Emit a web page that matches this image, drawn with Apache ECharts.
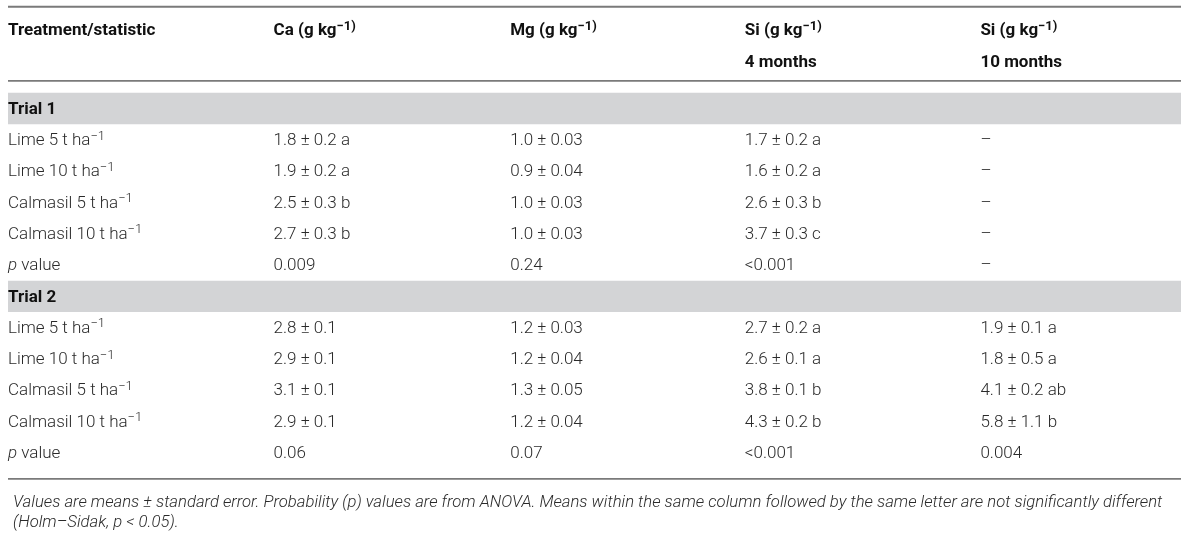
<!DOCTYPE html>
<html>
<head>
<meta charset="utf-8">
<title>Ca, Mg and Si by treatment</title>
<script src="https://cdn.jsdelivr.net/npm/echarts@6/dist/echarts.min.js"></script>
<style>
  html, body { margin: 0; padding: 0; background: #fff; }
  #table { width: 1200px; height: 536px; }
</style>
</head>
<body>
<div id="table"></div>
<script>
// Table content
const headTop = ['Treatment/statistic', 'Ca (g kg^−1)', 'Mg (g kg^−1)', 'Si (g kg^−1)', 'Si (g kg^−1)'];
const headSub = ['', '', '', '4 months', '10 months'];
const trials = ['Trial 1', 'Trial 2'];
const treatments = ['Lime 5 t ha^−1', 'Lime 10 t ha^−1', 'Calmasil 5 t ha^−1', 'Calmasil 10 t ha^−1', '_p_ value'];

const ca1 = ['1.8 ± 0.2 a', '1.9 ± 0.2 a', '2.5 ± 0.3 b', '2.7 ± 0.3 b', '0.009'];
const mg1 = ['1.0 ± 0.03', '0.9 ± 0.04', '1.0 ± 0.03', '1.0 ± 0.03', '0.24'];
const si4m1 = ['1.7 ± 0.2 a', '1.6 ± 0.2 a', '2.6 ± 0.3 b', '3.7 ± 0.3 c', '<0.001'];
const si10m1 = ['–', '–', '–', '–', '–'];

const ca2 = ['2.8 ± 0.1', '2.9 ± 0.1', '3.1 ± 0.1', '2.9 ± 0.1', '0.06'];
const mg2 = ['1.2 ± 0.03', '1.2 ± 0.04', '1.3 ± 0.05', '1.2 ± 0.04', '0.07'];
const si4m2 = ['2.7 ± 0.2 a', '2.6 ± 0.1 a', '3.8 ± 0.1 b', '4.3 ± 0.2 b', '<0.001'];
const si10m2 = ['1.9 ± 0.1 a', '1.8 ± 0.5 a', '4.1 ± 0.2 ab', '5.8 ± 1.1 b', '0.004'];

const footnote = 'Values are means ± standard error. Probability (p) values are from ANOVA. Means within the same column followed by the same letter are not significantly different\n(Holm–Sidak, p < 0.05).';

// Build cells: [column, row, text, kind]
const trialColumns = [[ca1, mg1, si4m1, si10m1], [ca2, mg2, si4m2, si10m2]];
const cells = [];
headTop.forEach((t, c) => cells.push([c, -2.5, t, 'head']));
headSub.forEach((t, c) => { if (t) cells.push([c, -1.5, t, 'head']); });

const sectionRows = [];
let row = 0;
trials.forEach((trial, k) => {
    sectionRows.push(row);
    cells.push([0, row, trial, 'section']);
    row++;
    treatments.forEach((name, r) => {
        cells.push([0, row, name, 'cell']);
        trialColumns[k].forEach((col, c) => cells.push([c + 1, row, col[r], 'cell']));
        row++;
    });
});
const lastRow = row - 1;

// Horizontal rules: top, under the header, bottom
const yMin = -3.25;
const rules = [yMin, -0.88, lastRow + 0.83];

const colPad = [0, 31, 33, 33, 34];
const bodyFont = 'Roboto, "Liberation Sans", Arial, sans-serif';
const bodySize = 17;
const headSize = 17;

function toRich(text) {
    return text
        .replace(/\^(\S+)/g, '{sup|$1}')
        .replace(/_(\w+)_/g, '{it|$1}');
}

function richStyles(kind) {
    const bold = kind !== 'cell';
    return {
        sup: {
            fontSize: 13,
            lineHeight: 13,
            verticalAlign: 'top',
            fontFamily: bodyFont,
            fontWeight: bold ? 'bold' : 300,
            fill: bold ? '#111' : '#2a2a2a'
        },
        it: { fontStyle: 'italic', fontSize: bodySize, lineHeight: 22, fontFamily: bodyFont, fontWeight: 300, fill: '#2a2a2a' }
    };
}

const chart = echarts.init(document.getElementById('table'), null, { renderer: 'canvas' });

chart.setOption({
    animation: false,
    title: {
        text: footnote,
        left: 8,
        top: 488,
        textStyle: {
            fontFamily: bodyFont,
            fontStyle: 'italic',
            fontWeight: 300,
            fontSize: 16.7,
            lineHeight: 20,
            color: '#2a2a2a'
        }
    },
    grid: { left: 8, right: 19, top: 6.75, bottom: 51.9 },
    xAxis: {
        type: 'category',
        data: headTop.map((_, i) => i),
        boundaryGap: true,
        show: false
    },
    yAxis: {
        type: 'value',
        inverse: true,
        min: yMin,
        max: 12,
        show: false
    },
    series: [
        {
            // grey bands behind each trial label
            type: 'custom',
            data: sectionRows.map(r => [0, r]),
            encode: { x: 0, y: 1 },
            silent: true,
            renderItem: function (params, api) {
                const bw = api.size([1, 0])[0];
                const rh = api.size([0, 1])[1];
                const p0 = api.coord([0, api.value(1)]);
                const p1 = api.coord([headTop.length - 1, api.value(1)]);
                return {
                    type: 'rect',
                    shape: { x: p0[0] - bw / 2, y: p0[1] - rh / 2, width: p1[0] - p0[0] + bw, height: rh },
                    style: { fill: '#d3d4d6' }
                };
            }
        },
        {
            // horizontal rules
            type: 'custom',
            data: rules.map(r => [0, r]),
            encode: { x: 0, y: 1 },
            silent: true,
            renderItem: function (params, api) {
                const bw = api.size([1, 0])[0];
                const p0 = api.coord([0, api.value(1)]);
                const p1 = api.coord([headTop.length - 1, api.value(1)]);
                return {
                    type: 'line',
                    shape: { x1: p0[0] - bw / 2, y1: p0[1], x2: p1[0] + bw / 2, y2: p1[1] },
                    style: { stroke: '#7a7a7a', lineWidth: 1.8 }
                };
            }
        },
        {
            // cell texts
            type: 'custom',
            data: cells,
            encode: { x: 0, y: 1 },
            silent: true,
            renderItem: function (params, api) {
                const item = cells[params.dataIndex];
                const kind = item[3];
                const bw = api.size([1, 0])[0];
                const p = api.coord([api.value(0), api.value(1)]);
                const bold = kind !== 'cell';
                return {
                    type: 'text',
                    x: p[0] - bw / 2 + colPad[item[0]],
                    y: p[1] + 1,
                    style: {
                        text: toRich(item[2]),
                        rich: richStyles(kind),
                        align: 'left',
                        verticalAlign: 'middle',
                        fontFamily: bodyFont,
                        fontSize: bold ? headSize : bodySize,
                        lineHeight: 22,
                        fontWeight: bold ? 'bold' : 300,
                        fill: bold ? '#111' : '#2a2a2a'
                    }
                };
            }
        }
    ]
});
</script>
</body>
</html>
